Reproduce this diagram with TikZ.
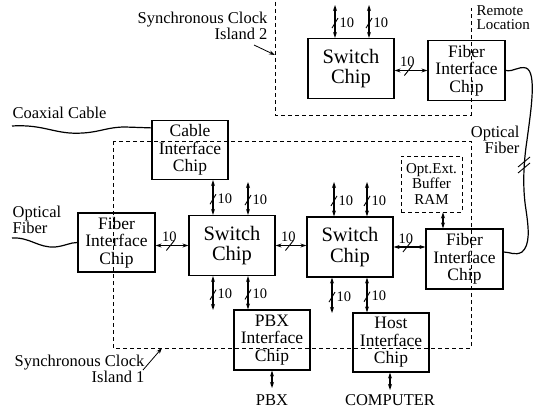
\documentclass[tikz,border=0pt]{standalone}
\usepackage{fontspec}
\setmainfont{Liberation Serif}
\usetikzlibrary{arrows.meta,calc}
\begin{document}
\begin{tikzpicture}[x=1pt,y=-1pt, line width=1.2pt,
 chip/.style={draw, minimum width=77pt, minimum height=60pt, inner sep=0pt, align=center, font=\fontsize{17.5}{17.5}\selectfont},
 swchip/.style={chip, minimum width=86pt, font=\fontsize{20.5}{20.5}\selectfont},
 lbl/.style={inner sep=0pt, font=\fontsize{16.5}{16}\selectfont},
 num/.style={inner sep=0pt, font=\fontsize{14.5}{14.5}\selectfont},
 tip/.tip={Stealth[length=6pt,width=4pt]},
 dbl/.style={tip-tip},
 isl/.style={dash pattern=on 4pt off 3pt, line width=0.9pt},
 pics/bv/.style={code={\draw[line width=0.9pt] (-3,5) -- (3,-5); \node[num,anchor=west] at (4,-0.5) {10};}},
 pics/bh/.style={code={\draw[line width=0.9pt] (-4,5) -- (4,-5); \node[num,anchor=south] at (-1,-3) {10};}},
]
\useasboundingbox (0,0) rectangle (535,412);

% clock islands
\draw[isl] (275,2) -- (275,115) -- (471,115) -- (471,8);
\draw[isl] (113,141) rectangle (471,348);
\coordinate (i2end) at (275,55);
\coordinate (i1end) at (162,348);

% chips
\node[swchip] (sw0) at (351,68.5) {Switch\\Chip};
\node[chip] (fib0) at (466.5,70.5) {Fiber\\Interface\\Chip};
\node[chip, minimum width=76pt, minimum height=59pt] (cab) at (190,150) {Cable\\Interface\\Chip};
\node[chip, minimum height=59pt] (fibL) at (116.5,242.5) {Fiber\\Interface\\Chip};
\node[swchip] (sw1) at (232,245.5) {Switch\\Chip};
\node[swchip] (sw2) at (350,247) {Switch\\Chip};
\node[chip] (fibR) at (464.5,259) {Fiber\\Interface\\Chip};
\node[chip, isl, minimum width=61pt, minimum height=56pt, font=\fontsize{15}{15.5}\selectfont] (buf) at (431.5,184) {Opt.Ext.\\Buffer\\RAM};
\node[chip, minimum width=76pt] (pbx) at (272,340) {PBX\\Interface\\Chip};
\node[chip, minimum width=76pt, minimum height=59pt] (host) at (391,342.5) {Host\\Interface\\Chip};

% free ends
\coordinate (a1) at (335,5);
\coordinate (a2) at (369,5);
\coordinate (a3) at (213,0);
\coordinate (a4) at (248,182);
\coordinate (a5) at (334,182);
\coordinate (a6) at (367,182);
\coordinate (a7) at (213,310);
\coordinate (a8) at (248,0);
\coordinate (a9) at (332,313);
\coordinate (a10) at (367,0);
\coordinate (a11) at (272,388);
\coordinate (a12) at (390,390);
\coordinate (a13) at (443,0);

% vertical buses
\draw[dbl] (a1) -- coordinate[pos=.55] (m1) (sw0.north -| a1); \pic at (m1) {bv};
\draw[dbl] (a2) -- coordinate[pos=.55] (m2) (sw0.north -| a2); \pic at (m2) {bv};
\draw[dbl] (cab.south -| a3) -- coordinate[pos=.55] (m3) (sw1.north -| a3); \pic at (m3) {bv};
\draw[dbl] (a4) -- coordinate[pos=.55] (m4) (sw1.north -| a4); \pic at (m4) {bv};
\draw[dbl] (a5) -- coordinate[pos=.55] (m5) (sw2.north -| a5); \pic at (m5) {bv};
\draw[dbl] (a6) -- coordinate[pos=.55] (m6) (sw2.north -| a6); \pic at (m6) {bv};
\draw[dbl] (sw1.south -| a7) -- coordinate[pos=.55] (m7) (a7); \pic at (m7) {bv};
\draw[dbl] (sw1.south -| a8) -- coordinate[pos=.55] (m8) (pbx.north -| a8); \pic at (m8) {bv};
\draw[dbl] (sw2.south -| a9) -- coordinate[pos=.55] (m9) (a9); \pic at (m9) {bv};
\draw[dbl] (sw2.south -| a10) -- coordinate[pos=.55] (m10) (host.north -| a10); \pic at (m10) {bv};
\draw[dbl] (pbx.south) -- (a11);
\draw[dbl] (host.south -| a12) -- (a12);
\draw[dbl] (buf.south -| a13) -- (fibR.north -| a13);

% horizontal buses
\draw[dbl] (sw0.east |- fib0.west) -- coordinate[pos=.42] (h1) (fib0.west); \pic at (h1) {bh};
\draw[dbl] (fibL.east |- sw1.west) -- coordinate[pos=.45] (h2) (sw1.west); \pic at (h2) {bh};
\draw[dbl] (sw1.east) -- coordinate[pos=.45] (h3) (sw1.east -| sw2.west); \pic at (h3) {bh};
\draw[dbl] (sw2.east) -- coordinate[pos=.42] (h4) (sw2.east -| fibR.west); \pic at (h4) {bh};

% cables
\coordinate (coax0) at (12,126);
\draw (coax0) .. controls (45,124) and (55,135) .. (83,133) .. controls (100,132) and (108,127) .. (125,127) -- ($(cab.north west)+(0,8)$);
\coordinate (of0) at (12,238);
\draw (of0) .. controls (30,237) and (38,248) .. (55,247) .. controls (65,246) and (70,242.5) .. (fibL.west);
\draw (fib0.east) .. controls (514,72) and (518,66) .. (526,68) .. controls (537,72) and (531,110) .. (527,140) .. controls (524,160) and (522,185) .. (526,210) .. controls (529,230) and (530,245) .. (522,252) .. controls (515,256) and (510,252) .. ($(fibR.east)+(0,-7)$);
\draw[line width=0.9pt] (518,167) -- (530,157);
\draw[line width=0.9pt] (518,173) -- (530,163);

% labels
\node[lbl, align=right, anchor=north east] (t1) at (268,11) {Synchronous Clock\\Island 2};
\draw[-tip, line width=0.8pt] (254,45) -- (i2end);
\node[lbl, anchor=north west] (t2) at (12,106) {Coaxial Cable};
\node[lbl, align=left, anchor=north west] (t3) at (12,205) {Optical\\Fiber};
\node[lbl, align=right, anchor=north east] (t4) at (520,125) {Optical\\Fiber};
\node[lbl, align=left, anchor=north west, font=\fontsize{15}{14.5}\selectfont] (t5) at (476,5) {Remote\\Location};
\node[lbl, align=right, anchor=north east] (t6) at (145,354) {Synchronous Clock\\Island 1};
\draw[-tip, line width=0.8pt] (143,370) -- (i1end);
\node[lbl, anchor=base] (t7) at (272,405) {PBX};
\node[lbl, anchor=base] (t8) at (390,405) {COMPUTER};
\end{tikzpicture}
\end{document}
